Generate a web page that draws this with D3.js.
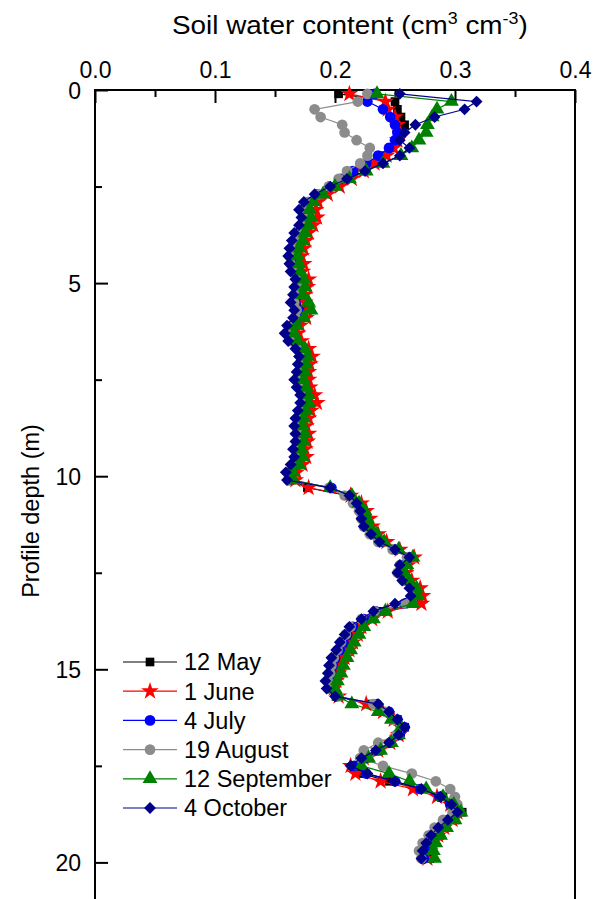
<!DOCTYPE html>
<html><head><meta charset="utf-8">
<script src="https://cdn.jsdelivr.net/npm/d3@7"></script>
<style>body{margin:0;background:#fff;} svg{display:block;font-family:"Liberation Sans",Arial,sans-serif;}</style>
</head><body>
<svg id="c" width="597" height="899"></svg>
<script>
const depths = [0.1,0.3,0.5,0.7,0.9,1.1,1.3,1.5,1.7,1.9,2.1,2.3,2.5,2.7,2.9,3.1,3.3,3.5,3.7,3.9,
4.1,4.3,4.5,4.7,4.9,5.1,5.3,5.5,5.7,5.9,6.1,6.3,6.5,6.7,6.9,7.1,7.3,7.5,7.7,7.9,
8.1,8.3,8.5,8.7,8.9,9.1,9.3,9.5,9.7,9.9,10.1,10.3,10.5,10.7,10.9,11.1,11.3,11.5,11.7,11.9,
12.1,12.3,12.5,12.7,12.9,13.1,13.3,13.5,13.7,13.9,14.1,14.3,14.5,14.7,14.9,15.1,15.3,15.5,15.7,15.9,
16.1,16.3,16.5,16.7,16.9,17.1,17.3,17.5,17.7,17.9,18.1,18.3,18.5,18.7,18.9,19.1,19.3,19.5,19.7,19.9];

const may12 = [0.203,0.250,0.252,0.255,0.258,0.255,0.251,0.246,0.237,0.226,
0.216,0.206,0.197,0.186,0.178,0.176,0.178,0.175,0.171,0.170,
0.167,0.166,0.168,0.169,0.173,0.171,0.170,0.168,0.173,0.171,
0.165,0.163,0.167,0.173,0.176,0.174,0.172,0.171,0.174,0.177,
0.177,0.175,0.172,0.170,0.173,0.172,0.169,0.171,0.168,0.164,
0.164,0.177,0.210,0.217,0.222,0.225,0.226,0.233,0.239,0.251,
0.263,0.257,0.255,0.260,0.268,0.270,0.266,0.240,0.227,0.218,
0.214,0.210,0.207,0.203,0.201,0.200,0.198,0.196,0.201,0.230,
0.244,0.252,0.258,0.254,0.247,0.237,0.226,0.217,0.222,0.245,
0.272,0.290,0.300,0.306,0.300,0.292,0.287,0.282,0.280,0.279];

const june1 = [0.212,0.242,0.244,0.250,0.252,0.254,0.252,0.249,0.243,0.233,
0.224,0.214,0.204,0.194,0.186,0.184,0.185,0.182,0.178,0.176,
0.174,0.172,0.174,0.173,0.178,0.177,0.175,0.175,0.177,0.176,
0.171,0.169,0.172,0.178,0.181,0.179,0.178,0.178,0.179,0.183,
0.185,0.180,0.178,0.176,0.178,0.177,0.175,0.176,0.173,0.168,
0.167,0.178,0.213,0.222,0.226,0.229,0.231,0.236,0.243,0.254,
0.266,0.261,0.259,0.264,0.271,0.273,0.272,0.244,0.231,0.222,
0.219,0.215,0.212,0.208,0.205,0.203,0.201,0.199,0.203,0.226,
0.240,0.249,0.255,0.253,0.246,0.236,0.224,0.213,0.217,0.238,
0.265,0.285,0.296,0.302,0.298,0.291,0.286,0.281,0.279,0.277];

const july4 = [0.233,0.227,0.240,0.246,0.250,0.252,0.250,0.245,0.236,0.226,
0.215,0.205,0.195,0.185,0.178,0.175,0.176,0.174,0.170,0.168,
0.166,0.165,0.166,0.167,0.171,0.172,0.169,0.167,0.170,0.169,
0.164,0.162,0.165,0.171,0.174,0.173,0.172,0.170,0.172,0.175,
0.175,0.173,0.171,0.170,0.171,0.170,0.169,0.170,0.166,0.162,
0.162,0.197,0.213,0.219,0.222,0.223,0.225,0.231,0.238,0.250,
0.262,0.255,0.253,0.258,0.264,0.266,0.258,0.234,0.224,0.215,
0.210,0.207,0.204,0.200,0.198,0.197,0.195,0.195,0.201,0.235,
0.245,0.252,0.258,0.254,0.246,0.236,0.225,0.216,0.226,0.250,
0.271,0.287,0.296,0.301,0.294,0.287,0.281,0.277,0.275,0.274];

const aug19 = [0.227,0.219,0.183,0.188,0.206,0.208,0.218,0.229,0.227,0.221,
0.210,0.203,0.195,0.186,0.177,0.173,0.174,0.173,0.169,0.166,
0.164,0.162,0.163,0.165,0.168,0.169,0.167,0.166,0.168,0.167,
0.163,0.160,0.163,0.169,0.172,0.171,0.170,0.169,0.171,0.174,
0.174,0.172,0.170,0.168,0.170,0.170,0.168,0.169,0.165,0.161,
0.161,0.195,0.208,0.215,0.220,0.222,0.224,0.229,0.236,0.248,
0.260,0.254,0.252,0.257,0.264,0.266,0.259,0.233,0.222,0.213,
0.209,0.205,0.202,0.199,0.197,0.196,0.194,0.195,0.203,0.232,
0.242,0.248,0.255,0.251,0.236,0.224,0.221,0.240,0.264,0.284,
0.296,0.300,0.302,0.298,0.290,0.283,0.278,0.273,0.270,0.272];

const sep12 = [0.235,0.297,0.285,0.281,0.277,0.276,0.270,0.264,0.255,0.240,
0.226,0.212,0.200,0.190,0.182,0.179,0.180,0.178,0.175,0.173,
0.170,0.169,0.170,0.171,0.174,0.175,0.173,0.178,0.180,0.174,
0.168,0.166,0.169,0.175,0.177,0.176,0.175,0.174,0.176,0.178,
0.178,0.176,0.174,0.173,0.175,0.174,0.172,0.173,0.170,0.165,
0.165,0.196,0.214,0.220,0.225,0.227,0.229,0.235,0.241,0.253,
0.265,0.260,0.258,0.262,0.268,0.269,0.265,0.242,0.232,0.224,
0.220,0.216,0.213,0.210,0.207,0.205,0.202,0.200,0.203,0.214,
0.236,0.247,0.255,0.253,0.247,0.238,0.228,0.222,0.245,0.262,
0.276,0.290,0.299,0.305,0.300,0.293,0.288,0.284,0.282,0.283];

const oct4 = [0.254,0.318,0.308,0.283,0.267,0.258,0.254,0.262,0.254,0.240,
0.225,0.210,0.196,0.183,0.174,0.170,0.172,0.170,0.166,0.164,
0.162,0.161,0.162,0.163,0.167,0.166,0.165,0.163,0.166,0.165,
0.160,0.158,0.161,0.167,0.170,0.169,0.168,0.166,0.168,0.171,
0.171,0.169,0.167,0.166,0.167,0.167,0.165,0.166,0.163,0.159,
0.160,0.196,0.212,0.218,0.221,0.222,0.224,0.230,0.237,0.250,
0.262,0.254,0.252,0.256,0.262,0.263,0.250,0.232,0.222,0.212,
0.208,0.204,0.201,0.197,0.195,0.194,0.192,0.193,0.200,0.236,
0.245,0.252,0.258,0.253,0.245,0.234,0.222,0.213,0.227,0.250,
0.272,0.288,0.297,0.302,0.294,0.286,0.280,0.276,0.273,0.272];

const seriesNames = ["12 May","1 June","4 July","19 August","12 September","4 October"];
const seriesValues = [may12, june1, july4, aug19, sep12, oct4];
const xMajor = [0,0.1,0.2,0.3,0.4];
const xMinor = [0.05,0.15,0.25,0.35];
const yMajor = [0,5,10,15,20];
const yMinor = [2.5,7.5,12.5,17.5];

const colors = ["#000000","#ff0000","#0000ff","#8c8c8c","#008000","#00008b"];
const symbols = [d3.symbolSquare, d3.symbolStar, d3.symbolCircle, d3.symbolCircle, d3.symbolTriangle, d3.symbolSquare];
const symSizes = [75, 95, 90, 90, 95, 70];
const symRot = [0,0,0,0,0,45];

const svg = d3.select("#c");
const L = 95, R = 575, T = 90;
const x = d3.scaleLinear().domain([0,0.4]).range([L,R]);
const y = d3.scaleLinear().domain([0,21]).range([T, T + 21*38.62]);
const B = 899;

// axes
const gx = svg.append("g").attr("transform",`translate(0,${T})`)
  .call(d3.axisTop(x).tickValues(xMajor).tickSize(-13).tickPadding(12).tickFormat(d3.format(".1f")));
const gx2 = svg.append("g").attr("transform",`translate(0,${T})`)
  .call(d3.axisTop(x).tickValues(xMinor).tickSize(-7).tickFormat(""));
const gy = svg.append("g").attr("transform",`translate(${L},0)`)
  .call(d3.axisLeft(y).tickValues(yMajor).tickSize(-13).tickPadding(14).tickFormat(d3.format("d")));
const gy2 = svg.append("g").attr("transform",`translate(${L},0)`)
  .call(d3.axisLeft(y).tickValues(yMinor).tickSize(-7).tickFormat(""));
[gx,gx2,gy,gy2].forEach(g=>{
  g.select(".domain").remove();
  g.selectAll(".tick line").attr("stroke","#000").attr("stroke-width",2);
  g.selectAll("text").attr("font-size",23).attr("fill","#000").attr("font-family",'"Liberation Sans",Arial,sans-serif');
});
gy.selectAll(".tick text").attr("dy","0.36em");

// frame
svg.append("path").attr("d",`M${L},${B+5}V${T}H${R}V${B+5}`)
  .attr("fill","none").attr("stroke","#000").attr("stroke-width",2);

// title
const title = svg.append("text").attr("x",0).attr("y",34)
  .attr("font-size",25).attr("fill","#000");
title.append("tspan").text("Soil water content (cm");
title.append("tspan").attr("font-size",16).attr("dy",-10).text("3");
title.append("tspan").attr("dy",10).text(" cm");
title.append("tspan").attr("font-size",16).attr("dy",-10).text("-3");
title.append("tspan").attr("dy",10).text(")");
{
  const bb = title.node().getBBox();
  const target0 = 172, target1 = 528;
  const s = (target1 - target0) / bb.width;
  title.attr("transform",`translate(${target0 - bb.x*s},0) scale(${s},1)`);
}

svg.append("text").attr("transform",`translate(39,511) rotate(-90)`).attr("text-anchor","middle")
  .attr("font-size",23.5).attr("fill","#000").text("Profile depth (m)");

// series
const line = d3.line().x(d=>x(d[1])).y(d=>y(d[0]));
const plot = svg.append("g");
seriesValues.forEach((vals,si)=>{
  const pts = depths.map((dd,i)=>[dd, vals[i]]);
  const g = plot.append("g");
  g.append("path").datum(pts).attr("d",line).attr("fill","none")
    .attr("stroke",colors[si]).attr("stroke-width",1.2);
  g.selectAll("path.m").data(pts).join("path").attr("class","m")
    .attr("d",d3.symbol().type(symbols[si]).size(symSizes[si]))
    .attr("transform",d=>`translate(${x(d[1])},${y(d[0])}) rotate(${symRot[si]})`)
    .attr("fill",colors[si]);
});

// legend
const lg = svg.append("g");
seriesNames.forEach((name,si)=>{
  const yy = 662 + si*29.2;
  lg.append("line").attr("x1",123).attr("x2",177).attr("y1",yy).attr("y2",yy)
    .attr("stroke",colors[si]).attr("stroke-width",1.2);
  lg.append("path").attr("d",d3.symbol().type(symbols[si]).size(symSizes[si])())
    .attr("transform",`translate(150,${yy}) rotate(${symRot[si]})`).attr("fill",colors[si]);
  lg.append("text").attr("x",184).attr("y",yy).attr("dy","0.36em").attr("font-size",23.5)
    .attr("fill","#000").text(name);
});
</script>
</body></html>
